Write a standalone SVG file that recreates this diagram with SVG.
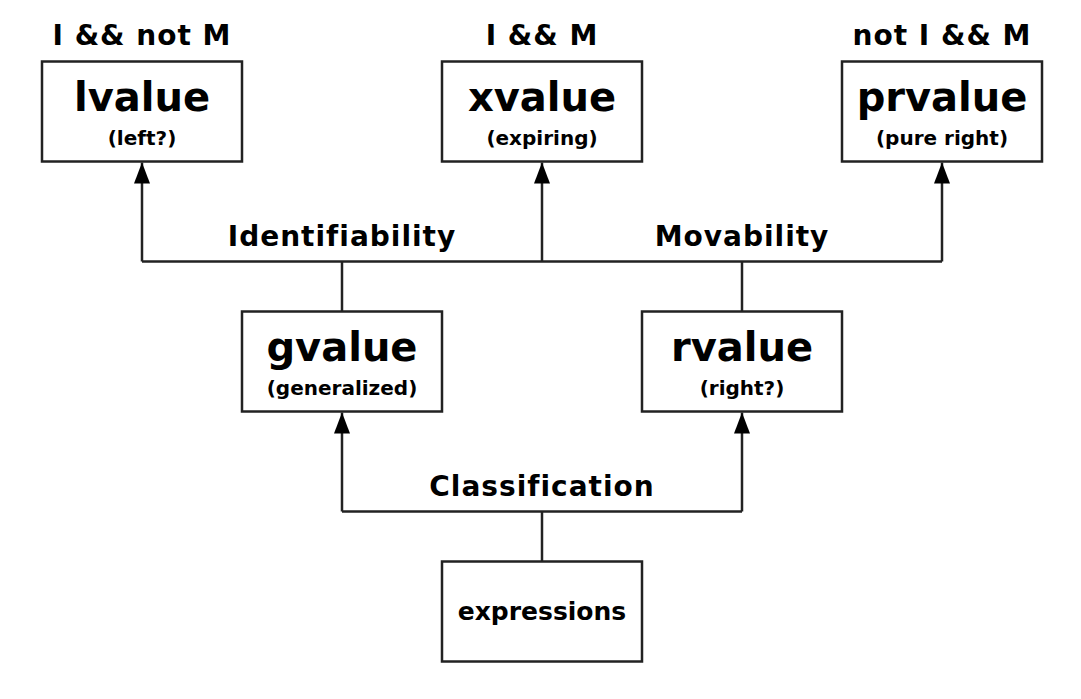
<svg xmlns="http://www.w3.org/2000/svg" width="1081" height="699" viewBox="0 0 1081 699">
<defs>
<style>
.box{fill:#fff;stroke:#222;stroke-width:2.5}
.ln{fill:none;stroke:#222;stroke-width:2.5}
text{font-family:"DejaVu Sans",Verdana,sans-serif;font-weight:bold;fill:#000;text-anchor:middle}
.main{font-size:40px}
.sub{font-size:20px}
.lab{font-size:28px;letter-spacing:1px}
.expr{font-size:25px}
</style>
<marker id="arr" markerUnits="userSpaceOnUse" markerWidth="22" markerHeight="16" refX="21" refY="8" orient="auto">
<path d="M0,0 L21,8 L0,16 Z" fill="#000"/>
</marker>
</defs>
<rect width="1081" height="699" fill="#fff"/>
<g id="connectors">
<path class="ln" d="M142,261.5 H942"/>
<path class="ln" d="M142,261.5 V162.5" marker-end="url(#arr)"/>
<path class="ln" d="M542,261.5 V162.5" marker-end="url(#arr)"/>
<path class="ln" d="M942,261.5 V162.5" marker-end="url(#arr)"/>
<path class="ln" d="M342,311.5 V261.5"/>
<path class="ln" d="M742,311.5 V261.5"/>
<path class="ln" d="M342,511.5 H742"/>
<path class="ln" d="M342,511.5 V412.5" marker-end="url(#arr)"/>
<path class="ln" d="M742,511.5 V412.5" marker-end="url(#arr)"/>
<path class="ln" d="M542,561.5 V511.5"/>
<text class="lab" x="342" y="246">Identifiability</text>
<text class="lab" x="742" y="246">Movability</text>
<text class="lab" x="542" y="496">Classification</text>
</g>
<g id="lvalue">
<text class="lab" x="142" y="45">I &amp;&amp; not M</text>
<rect class="box" x="42" y="61.5" width="200" height="100"/>
<text class="main" x="142" y="111">lvalue</text>
<text class="sub" x="142" y="145">(left?)</text>
</g>
<g id="xvalue">
<text class="lab" x="542" y="45">I &amp;&amp; M</text>
<rect class="box" x="442" y="61.5" width="200" height="100"/>
<text class="main" x="542" y="111">xvalue</text>
<text class="sub" x="542" y="145">(expiring)</text>
</g>
<g id="prvalue">
<text class="lab" x="942" y="45">not I &amp;&amp; M</text>
<rect class="box" x="842" y="61.5" width="200" height="100"/>
<text class="main" x="942" y="111">prvalue</text>
<text class="sub" x="942" y="145">(pure right)</text>
</g>
<g id="gvalue">
<rect class="box" x="242" y="311.5" width="200" height="100"/>
<text class="main" x="342" y="361">gvalue</text>
<text class="sub" x="342" y="395">(generalized)</text>
</g>
<g id="rvalue">
<rect class="box" x="642" y="311.5" width="200" height="100"/>
<text class="main" x="742" y="361">rvalue</text>
<text class="sub" x="742" y="395">(right?)</text>
</g>
<g id="expressions">
<rect class="box" x="442" y="561.5" width="200" height="100"/>
<text class="expr" x="542" y="620">expressions</text>
</g>
</svg>
